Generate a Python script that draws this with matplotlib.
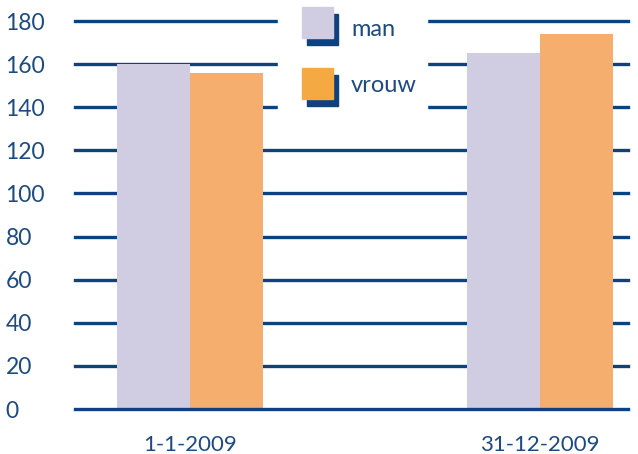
import matplotlib.pyplot as plt
from matplotlib.patches import Rectangle

plt.rcParams["font.family"] = ["Lato", "DejaVu Sans"]

NAVY = "#0e427e"
TEXT = "#1d4a80"

categories = ["1-1-2009", "31-12-2009"]
man = [160, 165]
vrouw = [156, 174]
yticks = [0, 20, 40, 60, 80, 100, 120, 140, 160, 180]

W, H = 638, 454
fig = plt.figure(figsize=(W / 100, H / 100), dpi=100)
ax = fig.add_axes([75 / W, (H - 409) / H, (628 - 75) / W, (409 - 21) / H])

width = 0.2086
x = range(len(categories))
ax.bar([i - width / 2 for i in x], man, width=width, color="#d0cde3", zorder=1)
ax.bar([i + width / 2 for i in x], vrouw, width=width, color="#f6ae6f", zorder=1)

for t in yticks:
    ax.axhline(t, color=NAVY, lw=2.4, zorder=2 if t == 0 else 0, clip_on=False)

ax.set_xlim(-0.3286, 1.2514)
ax.set_ylim(0, 180)
ax.set_yticks(yticks)
ax.set_yticklabels([str(t) for t in yticks], ha="left", fontsize=16.5, color=TEXT)
ax.tick_params(axis="y", length=0, pad=50)
ax.set_xticks(list(x))
ax.set_xticklabels(categories, fontsize=16, color=TEXT)
ax.tick_params(axis="x", length=0, pad=19)
for s in ax.spines.values():
    s.set_visible(False)

# white block behind the legend cuts the top gridlines
fig.patches.append(Rectangle((278 / W, (H - 115) / H), 149 / W, 115 / H,
                             transform=fig.transFigure, color="white", zorder=1))

# legend with shadowed squares
for y0, ty, col, lab in [(7, 29, "#d0cde3", "man"), (68, 86, "#f5a942", "vrouw")]:
    fig.patches.append(Rectangle(((302 + 5) / W, (H - y0 - 31 - 7) / H), 31 / W, 31 / H,
                                 transform=fig.transFigure, color=NAVY, zorder=2))
    fig.patches.append(Rectangle((302 / W, (H - y0 - 31) / H), 31 / W, 31 / H,
                                 transform=fig.transFigure, color=col, zorder=3))
    fig.text(351 / W, (H - ty) / H, lab, fontsize=17, color=TEXT, va="center", zorder=3)

fig.savefig("out.png", dpi=100)
